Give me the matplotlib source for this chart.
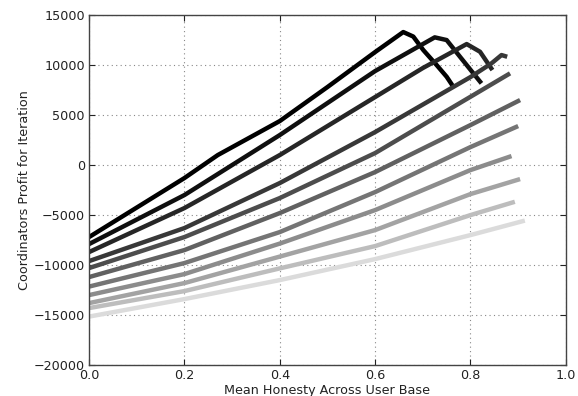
import matplotlib
matplotlib.use("Agg")
import matplotlib.pyplot as plt

# x / y values for each of the 11 curves (dark -> light)
line1_x = [0.0, 0.2, 0.27, 0.4, 0.5, 0.6, 0.659, 0.68, 0.701, 0.729, 0.75, 0.764]
line1_y = [-7200, -1300, 1000, 4400, 7800, 11300, 13300, 12850, 11500, 10000, 8830, 7830]
line2_x = [0.0, 0.2, 0.4, 0.6, 0.725, 0.75, 0.778, 0.806, 0.823]
line2_y = [-7900, -3000, 3000, 9400, 12770, 12500, 10830, 9170, 8170]
line3_x = [0.0, 0.2, 0.4, 0.6, 0.7, 0.792, 0.82, 0.846]
line3_y = [-8700, -4300, 1000, 6800, 9700, 12100, 11330, 9500]
line4_x = [0.0, 0.2, 0.4, 0.6, 0.8, 0.844, 0.865, 0.877]
line4_y = [-9600, -6300, -1800, 3300, 8800, 10170, 11000, 10830]
line5_x = [0.0, 0.2, 0.4, 0.6, 0.8, 0.883]
line5_y = [-10300, -7200, -3300, 1200, 6830, 9170]
line6_x = [0.0, 0.2, 0.4, 0.6, 0.8, 0.904]
line6_y = [-11200, -8500, -4800, -700, 4000, 6500]
line7_x = [0.0, 0.2, 0.4, 0.6, 0.8, 0.900]
line7_y = [-12150, -9800, -6700, -2700, 1800, 3900]
line8_x = [0.0, 0.2, 0.4, 0.6, 0.8, 0.886]
line8_y = [-13000, -10900, -7850, -4500, -500, 900]
line9_x = [0.0, 0.2, 0.4, 0.6, 0.8, 0.904]
line9_y = [-13800, -11800, -9150, -6500, -2900, -1400]
line10_x = [0.0, 0.2, 0.4, 0.6, 0.8, 0.893]
line10_y = [-14300, -12600, -10330, -8100, -5000, -3670]
line11_x = [0.0, 0.2, 0.4, 0.6, 0.8, 0.914]
line11_y = [-15150, -13400, -11500, -9400, -7000, -5550]

series_x = [line1_x, line2_x, line3_x, line4_x, line5_x, line6_x,
            line7_x, line8_x, line9_x, line10_x, line11_x]
series_y = [line1_y, line2_y, line3_y, line4_y, line5_y, line6_y,
            line7_y, line8_y, line9_y, line10_y, line11_y]
grays = [0.0, 0.06, 0.15, 0.22, 0.30, 0.38, 0.46, 0.55, 0.64, 0.74, 0.86]

x_ticks = [0.0, 0.2, 0.4, 0.6, 0.8, 1.0]
y_ticks = [-20000, -15000, -10000, -5000, 0, 5000, 10000, 15000]

plt.rcParams['font.family'] = ['DejaVu Sans']
fig = plt.figure(figsize=(5.78, 3.96), dpi=100)
fig.patch.set_facecolor('white')
ax = fig.add_axes([0.154, 0.078, 0.825, 0.884])

for xs, ys, g in zip(series_x, series_y, grays):
    ax.plot(xs, ys, color=(g, g, g), lw=3.2, solid_capstyle='butt',
            solid_joinstyle='round')

ax.set_xlim(0, 1.0)
ax.set_ylim(-20000, 15000)
ax.set_xticks(x_ticks)
ax.set_yticks(y_ticks)
ax.set_xticklabels(['0.0', '0.2', '0.4', '0.6', '0.8', '1.0'])
ax.set_yticklabels(['\u221220000', '\u221215000', '\u221210000', '\u22125000',
                    '0', '5000', '10000', '15000'])
ax.grid(True, color='#888888', linestyle=(0, (1, 3)), linewidth=0.8)
ax.tick_params(direction='in', length=4, labelsize=9.2, colors='#222222',
               top=True, right=True, pad=3)
for s in ax.spines.values():
    s.set_color('#444444')
    s.set_linewidth(1.0)
ax.set_xlabel('Mean Honesty Across User Base', fontsize=9.2, color='#222222',
              labelpad=1)
ax.set_ylabel('Coordinators Profit for Iteration', fontsize=9.2,
              color='#222222', labelpad=2)

fig.savefig('out.png', dpi=100, facecolor='white')
